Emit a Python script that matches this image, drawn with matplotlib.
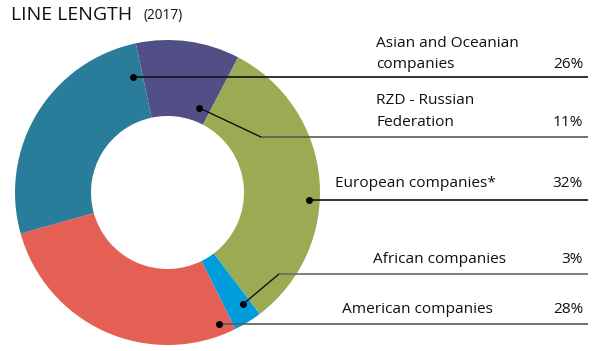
import matplotlib
matplotlib.use("Agg")
import matplotlib.pyplot as plt
import numpy as np

# ---- data ----
categories = ["RZD - Russian\nFederation", "European companies*", "African companies",
              "American companies", "Asian and Oceanian\ncompanies"]
shares = [11, 32, 3, 28, 26]
share_labels = ["11%", "32%", "3%", "28%", "26%"]
colors = ["#524F87", "#9AAB53", "#009DDC", "#E46055", "#2A7D9A"]

title = "LINE LENGTH"
subtitle = "(2017)"

# ---- layout (pixel space, y measured from top) ----
W, H = 599, 351
cx, cy_top = 167.5, 192.5
R = 152.5
ring_w = 76
start_angle = 102

# anchor (angle deg, radius px) for each dot
anchor_polar = [(69.8, 90.4), (-3.1, 142.0), (-55.8, 134.8), (-68.5, 141.3), (106.8, 120.3)]
# elbow x (None if straight), line y (from top)
elbow_x = [261, None, 279, None, None]
line_y = [137, 200.5, 274, 324, 77.5]
line_end = 588
h_colors = ["#5a5a5a", "#111111", "#6a6a6a", "#5a5a5a", "#111111"]
# label left x, last-line center y (from top)
label_x = [376, 335, 373, 342, 376]
label_last_y = [122, 183.5, 259.5, 309.5, 65]
line_gap = 21.5
pct_right = 583

fig = plt.figure(figsize=(W / 100, H / 100), dpi=100)
ax = fig.add_axes([0, 0, 1, 1])

cy = H - cy_top
ax.pie(shares, colors=colors, startangle=start_angle, counterclock=False,
       radius=R, center=(cx, cy), frame=True,
       wedgeprops=dict(width=ring_w, linewidth=0))
ax.set_xlim(0, W)
ax.set_ylim(0, H)
ax.set_aspect("auto")
ax.axis("off")

font = "Open Sans"
fs = 11.1
for i in range(len(shares)):
    a, r = anchor_polar[i]
    px = cx + r * np.cos(np.radians(a))
    py = cy + r * np.sin(np.radians(a))
    ly = H - line_y[i]
    if elbow_x[i] is not None:
        ax.plot([px, elbow_x[i]], [py, ly], color="#111111", lw=1.0, zorder=3)
        ax.plot([elbow_x[i], line_end], [ly, ly], color=h_colors[i], lw=1.2, zorder=3,
                solid_capstyle="butt")
    else:
        ax.plot([px, line_end], [py, py], color=h_colors[i], lw=1.2, zorder=3,
                solid_capstyle="butt")
    ax.plot([px], [py], "o", color="black", ms=4, zorder=4)
    lines = categories[i].split("\n")
    n = len(lines)
    for j, t in enumerate(lines):
        yy = label_last_y[i] - (n - 1 - j) * line_gap
        ax.text(label_x[i], H - yy, t, ha="left", va="center", fontsize=fs,
                family=font, color="#111111")
    ax.text(pct_right, H - label_last_y[i], share_labels[i], ha="right", va="center",
            fontsize=fs, family=font, color="#111111")

ax.text(11, H - 15, title, ha="left", va="center", fontsize=14, family=font, color="#111111")
ax.text(143, H - 16, subtitle, ha="left", va="center", fontsize=9.8, family=font, color="#111111")

fig.savefig("out.png", dpi=100)
